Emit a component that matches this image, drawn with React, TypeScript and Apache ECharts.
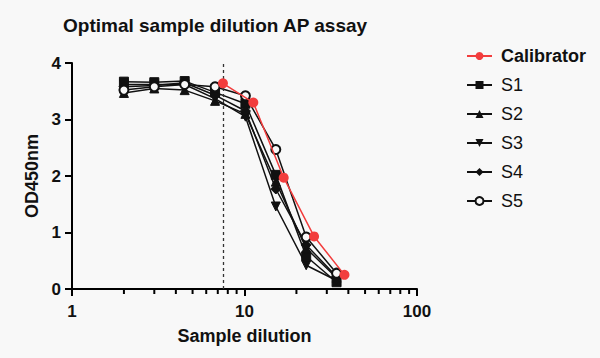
import React, { useEffect, useRef } from "react";
import * as echarts from "echarts";

const sampleX = [2, 3, 4.5, 6.75, 10.125, 15.19, 22.78, 34.17];
const calibratorX = [7.5, 11.25, 16.875, 25.31, 37.97];
const calibratorY = [3.64, 3.3, 1.97, 0.93, 0.25];
const s1 = [3.67, 3.66, 3.68, 3.48, 3.28, 2.02, 0.58, 0.12];
const s2 = [3.47, 3.55, 3.52, 3.33, 3.1, 1.9, 0.72, 0.2];
const s3 = [3.62, 3.62, 3.62, 3.37, 3.05, 1.46, 0.42, 0.15];
const s4 = [3.58, 3.6, 3.65, 3.43, 3.15, 1.77, 0.78, 0.22];
const s5 = [3.52, 3.58, 3.62, 3.58, 3.42, 2.47, 0.92, 0.28];
const minorTickValues = [2, 3, 4, 5, 6, 7, 8, 9, 20, 30, 40, 50, 60, 70, 80, 90];
const dashedLineX = 7.5;

const FONT = "'Liberation Sans', Arial, Helvetica, sans-serif";
const BG = "#f8f8f8";

function pairs(xs: number[], ys: number[]) {
  return xs.map((x, i) => [x, ys[i]]);
}

export default function App() {
  const ref = useRef<HTMLDivElement>(null);
  useEffect(() => {
    if (!ref.current) return;
    const chart = echarts.init(ref.current, null, { renderer: "svg" });
    const black = "#111";
    const red = "#f23d3d";
    const sampleSeries = (name: string, ys: number[], symbol: string, extra: any = {}) => ({
      name,
      type: "line",
      data: pairs(sampleX, ys),
      symbol,
      symbolSize: 9,
      lineStyle: { color: black, width: 1.5 },
      itemStyle: { color: black, borderColor: black },
      z: 3,
      ...extra,
    });
    chart.setOption({
      animation: false,
      backgroundColor: BG,
      textStyle: { fontFamily: FONT },
      title: {
        text: "Optimal sample dilution AP assay",
        left: 58,
        top: 11,
        textStyle: { fontFamily: FONT, fontSize: 19, fontWeight: "bold", color: "#111" },
      },
      grid: { left: 72, right: 183, top: 63, bottom: 69, containLabel: false },
      legend: {
        orient: "vertical",
        left: 461,
        top: 42,
        itemWidth: 25,
        itemHeight: 10,
        itemGap: 11,
        data: [
          { name: "Calibrator" },
          { name: "S1" },
          { name: "S2" },
          { name: "S3" },
          { name: "S4" },
          { name: "S5", itemStyle: { color: BG, borderColor: black, borderWidth: 2 } },
        ],
        formatter: (n: string) => (n === "Calibrator" ? `{b|${n}}` : n),
        textStyle: {
          fontFamily: FONT,
          fontSize: 18,
          color: "#111",
          padding: [0, 0, 0, 4],
          rich: { b: { fontFamily: FONT, fontSize: 18, fontWeight: "bold", color: "#111" } },
        },
      },
      xAxis: {
        type: "log",
        logBase: 10,
        min: 1,
        max: 100,
        name: "Sample dilution",
        nameLocation: "middle",
        nameGap: 38,
        nameTextStyle: { fontFamily: FONT, fontSize: 18, fontWeight: "bold", color: "#111" },
        axisLine: { show: true, onZero: false, lineStyle: { color: "#000", width: 2 } },
        axisTick: { show: true, inside: false, length: 7, lineStyle: { color: "#000", width: 2 } },
        axisLabel: { fontFamily: FONT, fontSize: 17, fontWeight: "bold", color: "#111", margin: 14 },
        splitLine: { show: false },
      },
      yAxis: {
        type: "value",
        min: 0,
        max: 4,
        interval: 1,
        name: "OD450nm",
        nameLocation: "middle",
        nameGap: 30,
        nameTextStyle: { fontFamily: FONT, fontSize: 18, fontWeight: "bold", color: "#111" },
        axisLine: { show: true, onZero: false, lineStyle: { color: "#000", width: 2 } },
        axisTick: { show: true, inside: false, length: 7, lineStyle: { color: "#000", width: 2 } },
        axisLabel: { fontFamily: FONT, fontSize: 17, fontWeight: "bold", color: "#111", margin: 11 },
        splitLine: { show: false },
      },
      series: [
        {
          name: "Calibrator",
          type: "line",
          data: pairs(calibratorX, calibratorY),
          symbol: "circle",
          symbolSize: 10,
          lineStyle: { color: red, width: 1.5 },
          itemStyle: { color: red },
          z: 5,
          markLine: {
            silent: true,
            symbol: "none",
            label: { show: false },
            lineStyle: { color: "#333", type: [3, 3], width: 1.3 },
            data: [[{ coord: [dashedLineX, 0] }, { coord: [dashedLineX, 4] }]],
          },
        },
        sampleSeries("S1", s1, "rect"),
        sampleSeries("S2", s2, "triangle"),
        sampleSeries("S3", s3, "triangle", { symbolRotate: 180 }),
        sampleSeries("S4", s4, "diamond", { symbolSize: 10 }),
        sampleSeries("S5", s5, "circle", {
          symbolSize: 9,
          itemStyle: { color: BG, borderColor: black, borderWidth: 2 },
        }),
        {
          name: "minorTicks",
          type: "custom",
          silent: true,
          clip: false,
          data: minorTickValues.map((v) => [v, 0]),
          renderItem: (_params: any, api: any) => {
            const p = api.coord([api.value(0), 0]);
            return {
              type: "line",
              shape: { x1: p[0], y1: p[1], x2: p[0], y2: p[1] + 5 },
              style: { stroke: "#000", lineWidth: 2 },
            };
          },
          z: 1,
        },
      ],
    });
    return () => chart.dispose();
  }, []);
  return (
    <div
      ref={ref}
      style={{ position: "fixed", left: 0, top: 0, width: 600, height: 358 }}
    />
  );
}
